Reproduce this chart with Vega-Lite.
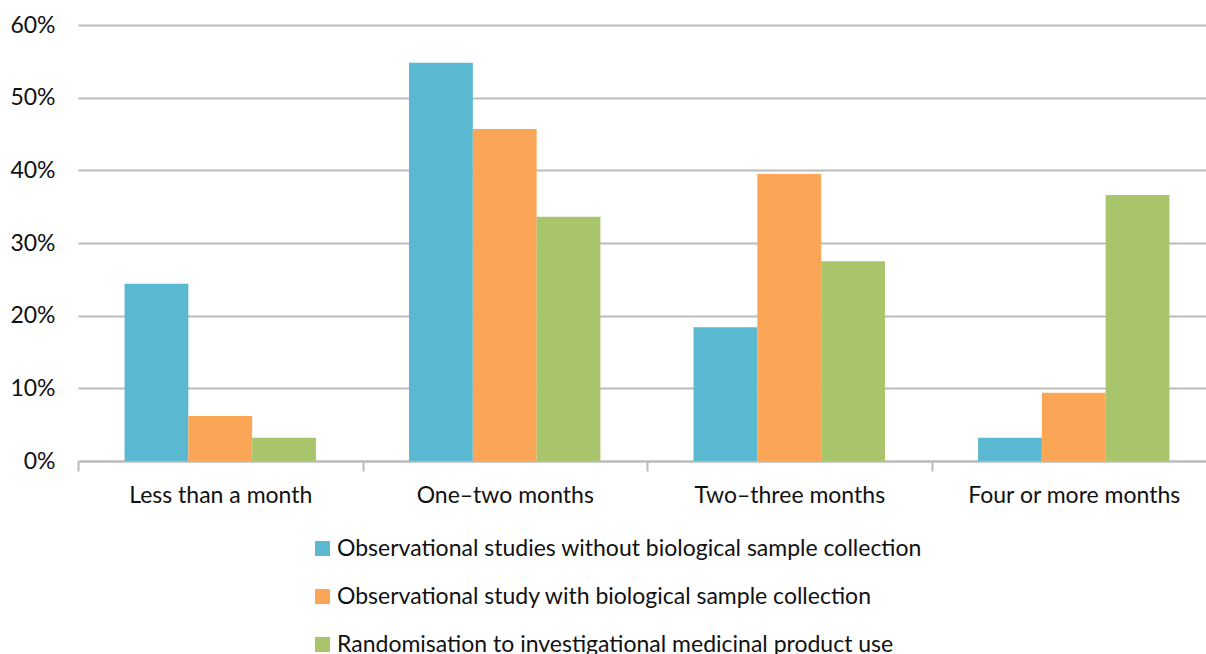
{
  "$schema": "https://vega.github.io/schema/vega-lite/v6.json",
  "width": 1128,
  "height": 436,
  "autosize": {"type": "none"},
  "padding": {"left": 78, "top": 25, "right": 0, "bottom": 193},
  "background": "white",
  "config": {
    "view": {"stroke": null},
    "font": "Lato"
  },
  "data": {
    "values": [
      {"period": "Less than a month", "type": "Observational studies without biological sample collection", "value": 24.4},
      {"period": "Less than a month", "type": "Observational study with biological sample collection", "value": 6.2},
      {"period": "Less than a month", "type": "Randomisation to investigational medicinal product use", "value": 3.2},
      {"period": "One–two months", "type": "Observational studies without biological sample collection", "value": 54.8},
      {"period": "One–two months", "type": "Observational study with biological sample collection", "value": 45.7},
      {"period": "One–two months", "type": "Randomisation to investigational medicinal product use", "value": 33.6},
      {"period": "Two–three months", "type": "Observational studies without biological sample collection", "value": 18.4},
      {"period": "Two–three months", "type": "Observational study with biological sample collection", "value": 39.5},
      {"period": "Two–three months", "type": "Randomisation to investigational medicinal product use", "value": 27.5},
      {"period": "Four or more months", "type": "Observational studies without biological sample collection", "value": 3.2},
      {"period": "Four or more months", "type": "Observational study with biological sample collection", "value": 9.4},
      {"period": "Four or more months", "type": "Randomisation to investigational medicinal product use", "value": 36.6}
    ]
  },
  "mark": {"type": "bar", "clip": true},
  "encoding": {
    "x": {
      "field": "period",
      "type": "nominal",
      "sort": null,
      "title": null,
      "scale": {"paddingInner": 0, "paddingOuter": 0, "range": [0, 1138]},
      "axis": {
        "labelAngle": 0,
        "labelFontSize": 23,
        "labelColor": "#111111",
        "labelPadding": 13,
        "labelLimit": 400,
        "tickBand": "extent",
        "tickSize": 10,
        "tickColor": "#BBBBBB",
        "tickWidth": 2,
        "domainColor": "#BBBBBB",
        "domainWidth": 2
      }
    },
    "xOffset": {
      "field": "type",
      "type": "nominal",
      "sort": null,
      "scale": {"paddingInner": 0, "paddingOuter": 0.73}
    },
    "y": {
      "field": "value",
      "type": "quantitative",
      "title": null,
      "scale": {"domain": [0, 60]},
      "axis": {
        "values": [0, 10, 20, 30, 40, 50, 60],
        "labelExpr": "datum.value + '%'",
        "labelFontSize": 23,
        "labelColor": "#111111",
        "labelPadding": 23,
        "ticks": false,
        "domain": false,
        "gridColor": "#BBBBBB",
        "gridWidth": 2
      }
    },
    "color": {
      "field": "type",
      "type": "nominal",
      "sort": null,
      "title": null,
      "scale": {
        "domain": [
          "Observational studies without biological sample collection",
          "Observational study with biological sample collection",
          "Randomisation to investigational medicinal product use"
        ],
        "range": ["#5BB8D1", "#FBA657", "#A9C56B"]
      },
      "legend": {
        "orient": "none",
        "legendX": 233,
        "legendY": 512,
        "direction": "vertical",
        "symbolType": "square",
        "symbolSize": 225,
        "symbolStrokeWidth": 0,
        "labelFontSize": 23,
        "labelColor": "#111111",
        "labelOffset": 3,
        "labelLimit": 900,
        "rowPadding": 24
      }
    }
  }
}
